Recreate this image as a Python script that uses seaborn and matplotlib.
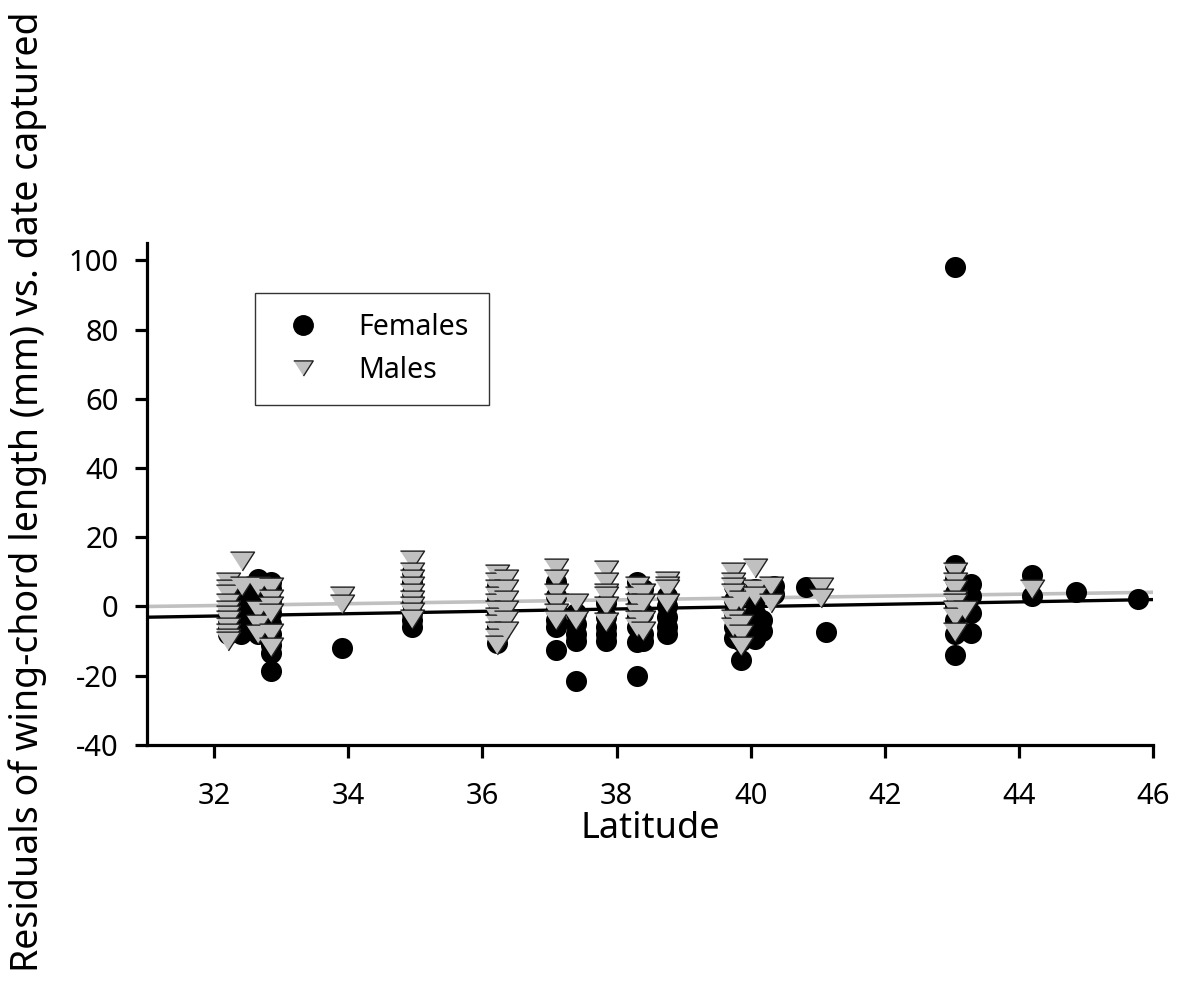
import seaborn as sns
import matplotlib.pyplot as plt
import pandas as pd
from matplotlib.lines import Line2D

# Latitude of each capture site and the residuals read at that site
female_lat = [32.2, 32.4, 32.65, 32.85, 33.9, 34.95, 36.22, 37.1, 37.4, 37.85,
              38.3, 38.4, 38.75, 39.75, 39.85, 40.07, 40.17, 40.35, 40.82, 41.12,
              43.04, 43.28, 44.2, 44.85, 45.78]
female_res = [[-2, -4, -6, -8],
              [5, 2, 0, -2, -4, -6, -8],
              [8, 4, 0, -4, -6, -8],
              [7, 5, 2, 0, -2, -5, -8, -11, -13.5, -18.5],
              [-12],
              [10, 7, 4, 1, -2, -4, -6],
              [6, 2, -2, -6, -10.5],
              [7, 3, -1, -4, -6, -12.7],
              [-2, -5, -8, -10, -21.5],
              [1, -3, -6, -8, -10],
              [7, 3, 0, -3, -6, -10.3, -20],
              [5, -2, -8, -10],
              [3, 0, -3, -6, -8],
              [6, 2, -2, -6, -9],
              [-4, -10, -15.5],
              [5, 2, -2, -5, -9.5],
              [-4, -7],
              [6, 3.5],
              [5.5],
              [-7.5],
              [98, 12, 8, 4, 0, -4, -8, -14],
              [6.6, 3, -2, -7.8],
              [9.2, 3],
              [4.3],
              [2.2]]

male_lat = [32.2, 32.41, 32.65, 32.85, 33.9, 34.95, 36.22, 36.35, 37.1, 37.4,
            37.85, 38.3, 38.4, 38.75, 39.73, 39.85, 40.07, 40.3, 41.05, 43.04,
            43.2, 44.2]
male_res = [[7, 5, 3.5, 1, -1, -2.5, -4, -6, -7.7, -9, -10],
            [13, 6],
            [6, -1, -5, -8],
            [5.6, 2.3, 0, -2, -7.8, -11.7],
            [3, 0.8],
            [13.5, 10, 8, 6, 4, 2, 0, -1.5, -3.5],
            [9.5, 7, 5, 3, 1, -1, -3, -5, -7, -9, -11],
            [8, 5, 2, -1, -4, -7],
            [11, 8, 4, 1, -2, -4],
            [1, -4],
            [10.5, 7, 4, 3, 0, -4.5],
            [6, 3, 1, -2, -4, -6],
            [4, 1, -4, -7],
            [7.5, 6, 5, 1],
            [10, 7, 5.5, 4, 0, -3.5, -6],
            [2, -5, -8, -11.5],
            [11, 5, 3],
            [6, 1],
            [5.5, 2.5],
            [10, 7, 5, 2, 1, -1, -3, -7.5],
            [-1],
            [5]]

# regression lines (ends)
fit_lat = [31, 46]
female_fit = [-3.1, 2.0]
male_fit = [0.0, 4.1]

x_ticks = [32, 34, 36, 38, 40, 42, 44, 46]
y_ticks = [-40, -20, 0, 20, 40, 60, 80, 100]


def to_frame(lats, groups):
    rows = [(la, r) for la, g in zip(lats, groups) for r in g]
    return pd.DataFrame(rows, columns=['Latitude', 'Residual'])


females = to_frame(female_lat, female_res)
males = to_frame(male_lat, male_res)

sns.set_theme(style="ticks")
plt.rcParams['font.family'] = ['Noto Sans', 'DejaVu Sans']
plt.rcParams['axes.unicode_minus'] = False
plt.rcParams['text.color'] = 'black'
plt.rcParams['axes.labelcolor'] = 'black'

fig = plt.figure(figsize=(11.79, 9.85), dpi=100)
ax = fig.add_axes([0.1247, 0.2437, 0.8533, 0.5096])

gray = '#c0c0c0'
tri = [(-1, 0.78), (1, 0.78), (0, -0.78)]

sns.lineplot(x=fit_lat, y=male_fit, color=gray, lw=2.6, ax=ax, zorder=1)
sns.lineplot(x=fit_lat, y=female_fit, color='black', lw=2.4, ax=ax, zorder=2)

sns.scatterplot(data=females, x='Latitude', y='Residual', marker='o', s=230,
                color='black', edgecolor='black', linewidth=0, ax=ax, zorder=3)
sns.scatterplot(data=males, x='Latitude', y='Residual', marker=tri, s=300,
                color=gray, edgecolor='#202020', linewidth=1.0, ax=ax, zorder=4)

ax.set_xlim(31, 46)
ax.set_ylim(-40, 105)
ax.set_xticks(x_ticks)
ax.set_yticks(y_ticks)
sns.despine(ax=ax)
for side in ['left', 'bottom']:
    ax.spines[side].set_linewidth(2.3)
    ax.spines[side].set_color('black')
ax.tick_params(axis='x', direction='out', length=9.5, width=2.3, labelsize=21, pad=17, colors='black')
ax.tick_params(axis='y', direction='out', length=8.5, width=2.3, labelsize=21, pad=12, colors='black')

ax.set_xlabel('Latitude', fontsize=26, labelpad=0)
ax.set_ylabel('Residuals of wing-chord length (mm) vs. date captured', fontsize=27)
ax.yaxis.set_label_coords(-0.099, 0.504)

handles = [Line2D([], [], ls='none', marker='o', ms=14, color='black'),
           Line2D([], [], ls='none', marker=tri, ms=14, markerfacecolor=gray,
                  markeredgecolor='#202020', markeredgewidth=1.0)]
leg = ax.legend(handles, ['Females', 'Males'], loc='upper left',
                bbox_to_anchor=(0.107, 0.900), frameon=True, fancybox=False,
                edgecolor='black', fontsize=20.5, handlelength=2.0, handletextpad=0.95,
                borderpad=0.7, labelspacing=0.5, borderaxespad=0)
leg.get_frame().set_linewidth(1.0)

fig.savefig('out.png', dpi=100)
